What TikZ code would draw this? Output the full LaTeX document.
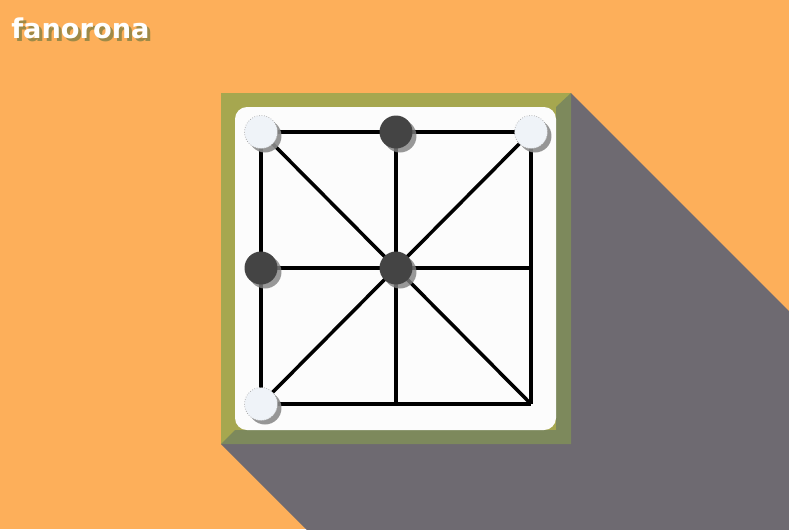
\documentclass[tikz,border=0pt]{standalone}
\usepackage{fontspec}
\setmainfont{DejaVu Sans}
\usepackage{tikz}
\usetikzlibrary{calc,positioning,shadows}
\definecolor{bgorange}{RGB}{253,175,90}
\definecolor{frameLight}{RGB}{166,167,79}
\definecolor{frameDark}{RGB}{125,137,92}
\definecolor{longShadow}{RGB}{110,106,113}
\definecolor{pieceLight}{RGB}{239,243,248}
\definecolor{pieceDark}{RGB}{68,68,68}
\definecolor{titleShadow}{RGB}{158,138,72}
\newcommand{\shadowtext}[1]{\makebox[0pt][l]{\hspace{0.06cm}\raisebox{-0.06cm}{\color{titleShadow}#1}}#1}
\tikzset{
  whitepiece/.style={
    circle,
    minimum size = 0.66cm,
    inner sep = 0pt,
    fill = pieceLight,
    draw = gray!70,
    densely dotted,
    drop shadow={shadow xshift=0.08cm, shadow yshift=-0.08cm, fill=gray!90, opacity=0.9}
  },
  blackpiece/.style={
    circle,
    minimum size = 0.66cm,
    inner sep = 0pt,
    fill = pieceDark,
    drop shadow={shadow xshift=0.08cm, shadow yshift=-0.08cm, fill=gray, opacity=0.8}
  },
  gridline/.style={
    line width = 0.07cm,
    black
  },
  title/.style={
    font = \bfseries\fontsize{15.5}{18}\selectfont,
    anchor = base west,
    inner sep = 0pt,
    text = white
  }
}

\begin{document}
\begin{tikzpicture}[x=0.02cm,y=-0.02cm]
    \def\gx{261}
    \def\gy{132}
    \def\dd{135}
    \useasboundingbox (0,0) rectangle (789,529);
    \clip (0,0) rectangle (789,529);
    \fill[bgorange] (0,0) rectangle (789,529);
        % long shadow
        \fill[longShadow] (571,93) -- (1071,593) -- (721,944) -- (221,444) -- cycle;
        % frame
        \fill[frameLight] (221,93) rectangle (571,444);
        \fill[frameDark] (571,93) -- (571,444) -- (221,444) -- (235,430) -- (556,430) -- (556,107) -- cycle;
        \fill[white!98!gray, rounded corners=0.24cm] (235,107) rectangle (556,430);
        \foreach \i in {0,1,2}{
        \foreach \j in {0,1,2}{
        \coordinate (g\i\j) at (\gx+\dd*\i, \gy+136*\j);
        }
        }
        \foreach \k in {0,1,2}{
        \draw[gridline] (g0\k) -- (g2\k);
        \draw[gridline] (g\k0) -- (g\k2);
        }
        \draw[gridline] (g00) -- (g22);
        \draw[gridline] (g20) -- (g02);
        \node[whitepiece] (w1) at (g00) {};
        \node[whitepiece] (w2) at (g20) {};
        \node[whitepiece] (w3) at (g02) {};
        \node[blackpiece] (b1) at (g10) {};
        \node[blackpiece] (b2) at (g01) {};
        \node[blackpiece] (b3) at (g11) {};
        \node[title] (tname) at (11,38) {\shadowtext{fanorona}};
    \end{tikzpicture}
\end{document}
